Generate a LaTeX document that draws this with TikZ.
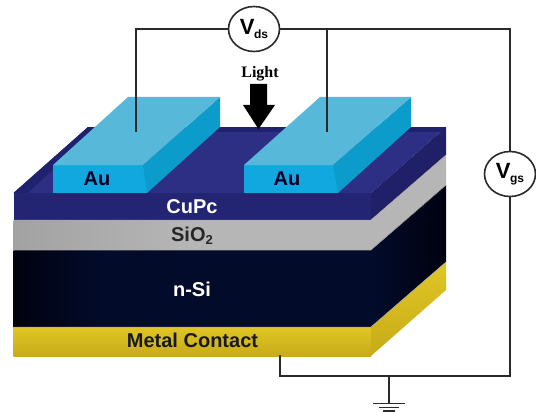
\documentclass[tikz,border=0pt]{standalone}
\usepackage{fontspec}
\setmainfont{Liberation Sans}
\newfontfamily\lightfont{Liberation Serif}
\usetikzlibrary{shapes.geometric}
\definecolor{cuTop}{HTML}{2D2F85}
\definecolor{cuBack}{HTML}{20226F}
\definecolor{cuFront}{HTML}{232572}
\definecolor{cuSide}{HTML}{1F2068}
\definecolor{auFront}{HTML}{10A8DF}
\definecolor{auSide}{HTML}{0C9CCB}
\definecolor{auTop}{HTML}{58B8DA}
\definecolor{siNavy}{HTML}{030B2B}
\definecolor{siEdge}{HTML}{00020F}
\definecolor{goldA}{HTML}{E0C626}
\definecolor{goldB}{HTML}{C8AB18}
\definecolor{oxide}{HTML}{B6B6B6}
\definecolor{oxideD}{HTML}{A2A2A2}
\definecolor{wire}{HTML}{2A2A2A}
\tikzset{
  wirepath/.style={draw=wire,line width=1.5pt,line cap=rect},
  meter/.style={ellipse,draw=wire,line width=1.6pt,fill=white,minimum width=51pt,minimum height=45pt,inner sep=0pt},
  lbl/.style={font=\bfseries\fontsize{20}{20}\selectfont,inner sep=0pt,anchor=center},
  seam/.style={draw=gray!70,line width=0.5pt}
}
\newcommand{\volt}[1]{{\bfseries\fontsize{22}{22}\selectfont V\kern-0.5pt\raisebox{-4.5pt}{\fontsize{12}{12}\selectfont #1}}}
\begin{document}
\begin{tikzpicture}[x=1pt,y=-1pt]
\useasboundingbox (0,0) rectangle (536,412);
% CuPc top
\fill[cuTop] (13.5,193) -- (88,127) -- (446,127) -- (371,193) -- cycle;
\fill[cuBack] (13.5,193) -- (88,127) -- (98,127) -- (28,193) -- cycle;
\fill[cuBack] (88,127) rectangle (446,132);
% CuPc front and side
\fill[cuFront] (13.5,193) rectangle (371,220);
\fill[cuSide] (371,193) -- (446,127) -- (446,155) -- (371,220) -- cycle;
% SiO2
\shade[left color=oxideD,right color=oxide,middle color=oxide] (13.5,220) rectangle (371,250);
\fill[oxide] (371,220) -- (446,155) -- (446,185) -- (371,250) -- cycle;
% n-Si
\shade[left color=siEdge,right color=siNavy,middle color=siNavy] (13.5,250) rectangle (192,327);
\fill[siNavy] (192,250) rectangle (371,327);
\shade[left color=siNavy,right color=siEdge] (371,250) -- (446,185) -- (446,262) -- (371,327) -- cycle;
% Metal
\shade[top color=goldA,bottom color=goldB] (13.5,327) rectangle (371,356);
\shade[top color=goldA,bottom color=goldB] (371,327) -- (446,262) -- (446,290) -- (371,356) -- cycle;
\draw[seam] (13.5,220) -- (371,220) -- (446,155);
\draw[seam] (13.5,250) -- (371,250) -- (446,185);
\draw[seam] (13.5,327) -- (371,327) -- (446,262);
% Au pads
\fill[auFront] (53,165) rectangle (147,193);
\fill[auSide] (143,165) -- (220,97) -- (220,127) -- (147,193) -- cycle;
\fill[auTop] (53,165) -- (128,97) -- (220,97) -- (143,165) -- cycle;
\fill[auFront] (244,165) rectangle (338,193);
\fill[auSide] (333,165) -- (411,97) -- (411,127) -- (338,193) -- cycle;
\fill[auTop] (244,165) -- (320,97) -- (411,97) -- (333,165) -- cycle;
% labels
\node[lbl,text=black!85!blue] (au1) at (97,179) {Au};
\node[lbl,text=black!85!blue] (au2) at (287,179) {Au};
\node[lbl,text=white] (cupc) at (192,207) {CuPc};
\node[lbl,text=black!85] (sio) at (192,236) {SiO\raisebox{-3.5pt}{\fontsize{13}{13}\selectfont 2}};
\node[lbl,text=white] (nsi) at (192,289) {n-Si};
\node[lbl,text=black!90] (metal) at (192.5,340) {Metal Contact};
\node[inner sep=0pt,font=\lightfont\bfseries\fontsize{16}{16}\selectfont] (light) at (260,74) {Light};
% light arrow
\fill[black] (250,84) -- (267,84) -- (267,105) -- (275,105) -- (258.5,129) -- (243,105) -- (250,105) -- cycle;
% meters
\node[meter] (vds) at (254,29) {\volt{ds}};
\node[meter] (vgs) at (510,174) {\volt{gs}};
% wire points
\coordinate (tl) at (136,29);
\coordinate (padL) at (136,131);
\coordinate (jr) at (327,29);
\coordinate (padR) at (327,131);
\coordinate (tr) at (510,29);
\coordinate (br) at (510,376);
\coordinate (bl) at (280,376);
\coordinate (contact) at (280,356);
\coordinate (gj) at (389,376);
\coordinate (g1) at (389,403);
\draw[wirepath] (vds.west) -- (tl) -- (padL);
\draw[wirepath] (vds.east) -- (tr) -- (vgs.north);
\draw[wirepath] (jr) -- (padR);
\draw[wirepath] (vgs.south) -- (br) -- (bl) -- (contact);
\draw[wirepath] (gj) -- (g1);
\draw[wire,line width=1.5pt] (373,403.5) -- (405,403.5);
\draw[wire,line width=1.5pt] (379,407.5) -- (399,407.5);
\draw[wire,line width=1.5pt] (383,411) -- (395,411);
\end{tikzpicture}
\end{document}
